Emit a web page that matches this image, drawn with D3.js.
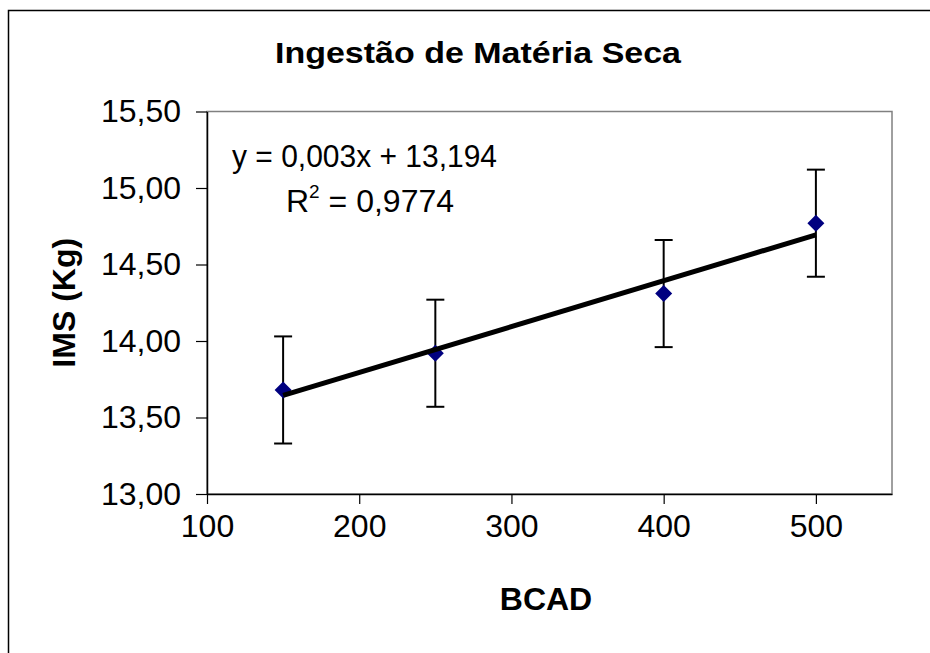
<!DOCTYPE html>
<html>
<head>
<meta charset="utf-8">
<script src="https://cdn.jsdelivr.net/npm/d3@7"></script>
<style>
  html, body { margin: 0; background: #fff; overflow: hidden; }
  svg { display: block; }
  text { font-family: "Liberation Sans", Arial, sans-serif; }
</style>
</head>
<body>
<div id="chart"></div>
<script>
// data
const bcad = [150, 250, 400, 500];
const ims = [13.68, 13.92, 14.31, 14.77];
const errs = [0.35, 0.35, 0.35, 0.35];
const trend = { slope: 0.003, intercept: 13.194 };
const xTicks = [100, 200, 300, 400, 500];
const yTicks = [13.0, 13.5, 14.0, 14.5, 15.0, 15.5];

const width = 930, height = 653;
const margin = ({ top: 111.5, right: 38, bottom: 159, left: 207 });

const svg = d3.select("#chart")
  .append("svg")
  .attr("width", width)
  .attr("height", height);

let data = bcad.map((d, i) => ({ x: d, y: ims[i], e: errs[i] }));

let x = d3.scaleLinear()
  .domain([100, 550])
  .range([margin.left, width - margin.right]);

let y = d3.scaleLinear()
  .domain([13, 15.5])
  .range([height - margin.bottom, margin.top]);

// outer chart border (right/bottom edges fall outside the picture)
svg.append("rect")
  .attr("x", 8.5).attr("y", 10.5)
  .attr("width", 960).attr("height", 700)
  .attr("fill", "none")
  .attr("stroke", "#000")
  .attr("stroke-width", 1.5);

// plot area frame (top/right grey)
svg.append("rect")
  .attr("x", x(100)).attr("y", y(15.5))
  .attr("width", x(550) - x(100))
  .attr("height", y(13) - y(15.5))
  .attr("fill", "none")
  .attr("stroke", "#808080")
  .attr("stroke-width", 1.5);

let fmt = d => d3.format(".2f")(d).replace(".", ",");

let yAxis = svg.append("g")
  .attr("transform", `translate(${margin.left},0)`)
  .call(d3.axisLeft(y).tickValues(yTicks).tickFormat(fmt).tickSize(11).tickSizeOuter(0).tickPadding(15));

let xAxis = svg.append("g")
  .attr("transform", `translate(0,${height - margin.bottom})`)
  .call(d3.axisBottom(x).tickValues(xTicks).tickFormat(d3.format("d")).tickSize(10).tickSizeOuter(0).tickPadding(10));

[xAxis, yAxis].forEach(a => {
  a.select(".domain").attr("stroke", "#000").attr("stroke-width", 1.5);
  a.selectAll(".tick line").attr("stroke", "#000").attr("stroke-width", 1.2);
  a.selectAll(".tick text")
    .attr("fill", "#000")
    .style("font-size", "32px")
    .style("font-family", "'Liberation Sans', Arial, sans-serif");
});
yAxis.selectAll(".tick text").attr("textLength", 80).attr("lengthAdjust", "spacingAndGlyphs");

// error bars
let eb = svg.append("g").attr("stroke", "#000").attr("stroke-width", 2);
eb.selectAll(".stem").data(data).join("line")
  .attr("x1", d => x(d.x)).attr("x2", d => x(d.x))
  .attr("y1", d => y(d.y + d.e)).attr("y2", d => y(d.y - d.e));
eb.selectAll(".capTop").data(data).join("line")
  .attr("x1", d => x(d.x) - 9).attr("x2", d => x(d.x) + 9)
  .attr("y1", d => y(d.y + d.e)).attr("y2", d => y(d.y + d.e));
eb.selectAll(".capBot").data(data).join("line")
  .attr("x1", d => x(d.x) - 9).attr("x2", d => x(d.x) + 9)
  .attr("y1", d => y(d.y - d.e)).attr("y2", d => y(d.y - d.e));

// diamond markers
svg.append("g").selectAll("path").data(data).join("path")
  .attr("transform", d => `translate(${x(d.x)},${y(d.y)})`)
  .attr("d", "M0,-8.5L8.5,0L0,8.5L-8.5,0Z")
  .attr("fill", "#000080");

// linear trend line
let x0 = d3.min(bcad), x1 = d3.max(bcad);
svg.append("line")
  .attr("x1", x(x0)).attr("y1", y(trend.slope * x0 + trend.intercept))
  .attr("x2", x(x1)).attr("y2", y(trend.slope * x1 + trend.intercept))
  .attr("stroke", "#000")
  .attr("stroke-width", 5);

// equation
let eq = svg.append("g").attr("font-size", 32).attr("fill", "#000");
eq.append("text")
  .attr("x", 232).attr("y", 167)
  .attr("textLength", 265)
  .attr("lengthAdjust", "spacingAndGlyphs")
  .text("y = 0,003x + 13,194");
let r2 = eq.append("text").attr("x", 286).attr("y", 212);
r2.append("tspan").text("R");
r2.append("tspan").attr("font-size", 19).attr("dy", -14).text("2");
r2.append("tspan").attr("dy", 14).text(" = 0,9774");

// title and axis labels
svg.append("text")
  .attr("x", 478).attr("y", 63)
  .attr("text-anchor", "middle")
  .attr("font-size", 30)
  .attr("font-weight", "bold")
  .attr("textLength", 406)
  .attr("lengthAdjust", "spacingAndGlyphs")
  .text("Ingestão de Matéria Seca");

svg.append("text")
  .attr("x", 546).attr("y", 610)
  .attr("text-anchor", "middle")
  .attr("font-size", 32)
  .attr("font-weight", "bold")
  .text("BCAD");

svg.append("text")
  .attr("transform", `translate(75,${(y(13) + y(15.5)) / 2}) rotate(-90)`)
  .attr("text-anchor", "middle")
  .attr("font-size", 32)
  .attr("font-weight", "bold")
  .text("IMS (Kg)");
</script>
</body>
</html>
